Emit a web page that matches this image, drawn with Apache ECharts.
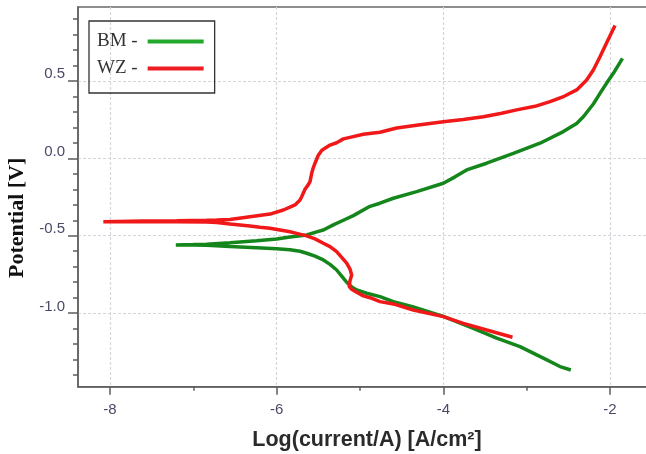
<!DOCTYPE html>
<html>
<head>
<meta charset="utf-8">
<script src="https://cdn.jsdelivr.net/npm/echarts@6/dist/echarts.min.js"></script>
<style>
  html, body { margin: 0; padding: 0; background: #fff; }
  #chart { width: 646px; height: 454px; }
</style>
</head>
<body>
<div id="chart"></div>
<script>
// polarisation curves, traced cathodic end -> Ecorr -> anodic end
const bmLogI = [-2.47, -2.60, -2.80, -3.08, -3.36, -3.64, -4.00, -4.36, -4.60, -4.76, -4.92, -5.04, -5.10, -5.16, -5.22, -5.28, -5.36, -5.44, -5.54, -5.64, -5.72, -5.84, -6.00, -6.24, -6.56, -6.84, -7.00, -7.21,
  -7.00, -6.84, -6.56, -6.24, -6.00, -5.84, -5.64, -5.52, -5.44, -5.32, -5.20, -5.08, -4.88, -4.76, -4.60, -4.32, -4.00, -3.86, -3.72, -3.48, -3.16, -2.84, -2.56, -2.40, -2.32, -2.20, -2.12, -2.04, -1.96, -1.85]
const bmE = [-1.366, -1.344, -1.290, -1.215, -1.161, -1.097, -1.020, -0.960, -0.925, -0.893, -0.871, -0.850, -0.830, -0.800, -0.760, -0.721, -0.685, -0.656, -0.632, -0.613, -0.600, -0.590, -0.584, -0.577, -0.570, -0.562, -0.560, -0.559,
  -0.557, -0.555, -0.545, -0.532, -0.521, -0.508, -0.495, -0.475, -0.463, -0.430, -0.400, -0.370, -0.310, -0.290, -0.258, -0.215, -0.161, -0.120, -0.075, -0.032, 0.032, 0.097, 0.172, 0.225, 0.268, 0.350, 0.419, 0.485, 0.548, 0.645]

const wzLogI = [-3.17, -3.48, -3.76, -4.00, -4.36, -4.60, -4.76, -4.88, -4.96, -5.04, -5.10, -5.13, -5.12, -5.10, -5.12, -5.16, -5.22, -5.28, -5.36, -5.44, -5.54, -5.64, -5.76, -5.84, -5.96, -6.08, -6.20, -6.32, -6.44, -6.56, -6.72, -6.84, -7.20, -7.60, -8.08,
  -7.60, -7.20, -6.84, -6.72, -6.56, -6.32, -6.08, -5.92, -5.82, -5.78, -5.72, -5.70, -5.66, -5.62, -5.60, -5.58, -5.56, -5.54, -5.50, -5.46, -5.42, -5.36, -5.28, -5.20, -5.12, -4.96, -4.76, -4.56, -4.30, -4.00, -3.76, -3.52, -3.30, -3.12, -2.90, -2.72, -2.55, -2.40, -2.28, -2.20, -2.12, -2.04, -1.94]
const wzE = [-1.155, -1.108, -1.065, -1.022, -0.979, -0.940, -0.925, -0.900, -0.888, -0.865, -0.845, -0.828, -0.790, -0.753, -0.715, -0.677, -0.640, -0.603, -0.570, -0.548, -0.520, -0.501, -0.485, -0.474, -0.463, -0.452, -0.445, -0.437, -0.430, -0.424, -0.415, -0.411, -0.410, -0.409, -0.409,
  -0.405, -0.403, -0.400, -0.398, -0.395, -0.377, -0.360, -0.334, -0.310, -0.301, -0.270, -0.248, -0.200, -0.170, -0.151, -0.097, -0.060, -0.032, 0.020, 0.050, 0.065, 0.085, 0.100, 0.125, 0.135, 0.155, 0.168, 0.195, 0.215, 0.236, 0.250, 0.268, 0.290, 0.312, 0.335, 0.365, 0.400, 0.441, 0.505, 0.570, 0.655, 0.745, 0.857]

const xMajor = [-8, -6, -4, -2]
const xMinor = [-7, -5, -3]
const yMajor = [-1.0, -0.5, 0.0, 0.5]
const yMinor = [-1.4, -1.3, -1.2, -1.1, -0.9, -0.8, -0.7, -0.6, -0.4, -0.3, -0.2, -0.1, 0.1, 0.2, 0.3, 0.4, 0.6, 0.7, 0.8, 0.9]

const pairs = (xs, ys) => xs.map((x, i) => [x, ys[i]])

const X_MIN = -8.384, X_MAX = -1.544
const Y_MIN = -1.474, Y_MAX = 0.976
const axisGray = '#5e5e5e'
const labelColor = '#4a4a68'

const chart = echarts.init(document.getElementById('chart'))

const baseX = {
  type: 'value', min: X_MIN, max: X_MAX, position: 'bottom',
  axisLine: { show: true, onZero: false, lineStyle: { color: axisGray, width: 1.5 } }
}
const baseY = {
  type: 'value', min: Y_MIN, max: Y_MAX, position: 'left',
  axisLine: { show: true, onZero: false, lineStyle: { color: axisGray, width: 1.5 } }
}

chart.setOption({
  animation: false,
  backgroundColor: '#fff',
  grid: {
    left: 78, top: 7, right: -2, bottom: 67.3,
    show: true, borderColor: '#6a6a6a', borderWidth: 1.5,
    outerBoundsMode: 'none'
  },
  legend: {
    left: 89, top: 21, orient: 'vertical', align: 'right', icon: 'rect',
    itemWidth: 56, itemHeight: 4, itemGap: 8,
    padding: [11, 11, 15, 8],
    borderColor: '#333', borderWidth: 1.3,
    formatter: n => n + ' -',
    textStyle: { fontFamily: 'Liberation Serif', fontSize: 19, color: '#333', padding: [0, 5, 0, 0] },
    data: [
      { name: 'BM', itemStyle: { color: '#22a82a' } },
      { name: 'WZ', itemStyle: { color: '#ee1c24' } }
    ]
  },
  xAxis: [
    {
      ...baseX,
      name: 'Log(current/A) [A/cm²]', nameLocation: 'middle', nameGap: 42,
      nameTextStyle: { fontFamily: 'Liberation Sans', fontWeight: 'bold', fontSize: 21.5, color: '#2a2a2a', padding: [0, 0, 0, 8] },
      axisTick: { show: true, length: 8, customValues: xMajor, lineStyle: { color: axisGray, width: 1.5 } },
      axisLabel: { customValues: xMajor, margin: 16, fontFamily: 'Liberation Sans', fontSize: 15, color: labelColor, formatter: v => String(v) },
      splitLine: { show: true, lineStyle: { color: '#d3d6da', type: [3, 2], width: 1.2 } }
    },
    {
      ...baseX,
      axisLine: { show: false, onZero: false },
      axisTick: { show: true, length: 4, customValues: xMinor, lineStyle: { color: axisGray, width: 1.5 } },
      axisLabel: { show: false },
      splitLine: { show: false }
    }
  ],
  yAxis: [
    {
      ...baseY,
      name: 'Potential [V]', nameLocation: 'middle', nameGap: 46,
      nameTextStyle: { fontFamily: 'Liberation Serif', fontWeight: 'bold', fontSize: 22, color: '#111', padding: [0, 42, 0, 0] },
      axisTick: { show: true, length: 10, customValues: yMajor, lineStyle: { color: axisGray, width: 1.5 } },
      axisLabel: { customValues: yMajor, margin: 13, fontFamily: 'Liberation Sans', fontSize: 15, color: labelColor, verticalAlign: 'bottom', lineHeight: 13, formatter: v => v.toFixed(1) },
      splitLine: { show: true, lineStyle: { color: '#d3d6da', type: [3, 2], width: 1.2 } }
    },
    {
      ...baseY,
      axisLine: { show: false, onZero: false },
      axisTick: { show: true, length: 5, customValues: yMinor, lineStyle: { color: axisGray, width: 1.5 } },
      axisLabel: { show: false },
      splitLine: { show: false }
    }
  ],
  series: [
    {
      name: 'BM', type: 'line', data: pairs(bmLogI, bmE),
      showSymbol: false, symbol: 'none',
      lineStyle: { color: '#15861b', width: 3.5 }, itemStyle: { color: '#15861b' }
    },
    {
      name: 'WZ', type: 'line', data: pairs(wzLogI, wzE),
      showSymbol: false, symbol: 'none',
      lineStyle: { color: '#f01818', width: 3.5 }, itemStyle: { color: '#f01818' }
    }
  ]
})
</script>
</body>
</html>
